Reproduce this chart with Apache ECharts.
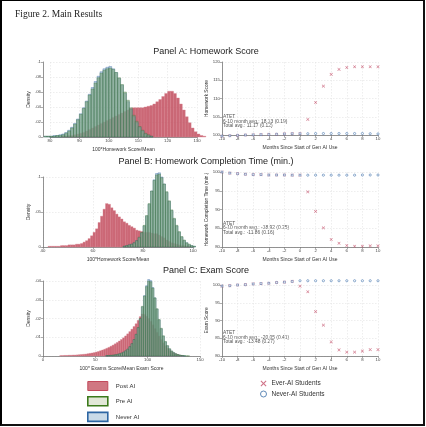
<!DOCTYPE html>
<html><head><meta charset="utf-8">
<script src="https://cdn.jsdelivr.net/npm/echarts@6/dist/echarts.min.js"></script>
<style>
html,body{margin:0;padding:0;background:#fff;}
#c{position:absolute;left:0;top:0;width:426px;height:427px;}
#frame{position:absolute;left:0;top:0;width:425px;height:426px;box-sizing:border-box;border-left:2px solid #000;border-top:1.5px solid #000;border-right:2px solid #111;border-bottom:2px solid #111;pointer-events:none;}
</style></head>
<body><div id="c"></div><div id="frame"></div>
<script>
// ---------- DATA ----------
const months = [-10,-9,-8,-7,-6,-5,-4,-3,-2,-1,0,1,2,3,4,5,6,7,8,9,10];

// Panel A scatter: Homework Score
const scoreNever = [99.7,99.8,99.9,100.0,100.05,100.1,100.15,100.2,100.3,100.35,100.35,100.35,100.4,100.4,100.4,100.4,100.4,100.4,100.4,100.35,100.3];
const scoreEver  = [99.7,99.8,99.9,100.0,100.05,100.1,100.15,100.2,100.3,100.35,100.4,104.3,108.9,113.4,116.6,118.0,118.5,118.7,118.7,118.7,118.7];
// Panel B scatter: Homework Completion Time
const timeNever = [100.0,99.7,99.55,99.4,99.3,99.3,99.2,99.2,99.2,99.15,99.15,99.15,99.15,99.15,99.15,99.15,99.15,99.15,99.2,99.2,99.2];
const timeEver  = [100.0,99.7,99.55,99.4,99.3,99.3,99.2,99.2,99.2,99.15,99.15,94.7,89.5,85.1,82.0,81.0,80.4,80.2,80.2,80.3,80.3];
// Panel C scatter: Exam Score
const examNever = [99.7,99.8,100.0,100.1,100.3,100.4,100.5,100.7,100.8,101.0,101.2,101.2,101.2,101.2,101.2,101.2,101.2,101.2,101.2,101.2,101.2];
const examEver  = [99.7,99.8,100.0,100.1,100.3,100.4,100.5,100.7,100.8,101.0,99.7,98.1,92.5,88.7,84.0,81.7,81.1,81.1,81.4,81.8,81.8];

// Histogram bin widths
const binA = 1, binB = 1, binC = 2;

// Panel A histograms [bin start, density]
const histA_post = [[84,.001],[85,.001],[86,.002],[87,.002],[88,.003],[89,.004],[90,.005],[91,.006],[92,.008],[93,.010],[94,.012],[95,.014],[96,.016],[97,.018],[98,.020],[99,.022],[100,.024],[101,.026],[102,.028],[103,.030],[104,.032],[105,.034],[106,.036],[107,.038],[108,.039],[109,.039],[110,.039],[111,.039],[112,.040],[113,.041],[114,.042],[115,.044],[116,.047],[117,.050],[118,.054],[119,.058],[120,.061],[121,.061],[122,.058],[123,.052],[124,.044],[125,.036],[126,.027],[127,.019],[128,.012],[129,.007],[130,.004],[131,.002],[132,.001]];
const histA_pre = [[78,.001],[79,.001],[80,.001],[81,.001],[82,.002],[83,.002],[84,.003],[85,.005],[86,.008],[87,.012],[88,.017],[89,.023],[90,.030],[91,.038],[92,.047],[93,.056],[94,.064],[95,.072],[96,.079],[97,.085],[98,.089],[99,.091],[100,.092],[101,.090],[102,.086],[103,.079],[104,.070],[105,.060],[106,.049],[107,.039],[108,.029],[109,.021],[110,.014],[111,.009],[112,.005],[113,.003],[114,.001]];
const histA_never = [[78,.001],[79,.001],[80,.001],[81,.002],[82,.002],[83,.003],[84,.004],[85,.006],[86,.009],[87,.013],[88,.018],[89,.024],[90,.031],[91,.039],[92,.048],[93,.057],[94,.066],[95,.074],[96,.081],[97,.087],[98,.091],[99,.093],[100,.094],[101,.091],[102,.086],[103,.078],[104,.069],[105,.058],[106,.047],[107,.037],[108,.027],[109,.019],[110,.013],[111,.008],[112,.004],[113,.002],[114,.001]];

// Panel B histograms
const histB_post = [[42,.001],[43,.001],[44,.001],[45,.001],[46,.001],[47,.002],[48,.002],[49,.002],[50,.003],[51,.003],[52,.003],[53,.004],[54,.004],[55,.005],[56,.007],[57,.009],[58,.012],[59,.016],[60,.021],[61,.026],[62,.035],[63,.044],[64,.054],[65,.062],[66,.061],[67,.056],[68,.052],[69,.047],[70,.043],[71,.040],[72,.036],[73,.034],[74,.031],[75,.029],[76,.027],[77,.024],[78,.023],[79,.022],[80,.021],[81,.021],[82,.021],[83,.020],[84,.019],[85,.019],[86,.017],[87,.015],[88,.013],[89,.010],[90,.008],[91,.006],[92,.005],[93,.004],[94,.003],[95,.002],[96,.002],[97,.001],[98,.001]];
const histB_pre = [[72,.001],[73,.002],[74,.003],[75,.004],[76,.006],[77,.009],[78,.014],[79,.021],[80,.031],[81,.045],[82,.062],[83,.080],[84,.095],[85,.103],[86,.104],[87,.099],[88,.090],[89,.079],[90,.066],[91,.053],[92,.041],[93,.031],[94,.022],[95,.015],[96,.010],[97,.006],[98,.004],[99,.002],[100,.001]];
const histB_never = [[72,.001],[73,.002],[74,.003],[75,.004],[76,.006],[77,.009],[78,.013],[79,.020],[80,.030],[81,.044],[82,.061],[83,.080],[84,.096],[85,.105],[86,.106],[87,.100],[88,.090],[89,.078],[90,.065],[91,.052],[92,.040],[93,.030],[94,.021],[95,.014],[96,.009],[97,.006],[98,.003],[99,.002],[100,.001]];

// Panel C histograms
const histC_post = [[16,.0002],[18,.0002],[20,.0003],[22,.0003],[24,.0004],[26,.0004],[28,.0005],[30,.0005],[32,.0006],[34,.0007],[36,.0008],[38,.0009],[40,.0010],[42,.0012],[44,.0014],[46,.0016],[48,.0018],[50,.0021],[52,.0024],[54,.0028],[56,.0032],[58,.0036],[60,.0041],[62,.0046],[64,.0052],[66,.0058],[68,.0065],[70,.0072],[72,.0080],[74,.0088],[76,.0097],[78,.0107],[80,.0118],[82,.0130],[84,.0143],[86,.0157],[88,.0172],[90,.0190],[92,.0210],[94,.0224],[96,.0222],[98,.0212],[100,.0200],[102,.0184],[104,.0166],[106,.0146],[108,.0126],[110,.0106],[112,.0087],[114,.0070],[116,.0055],[118,.0042],[120,.0031],[122,.0022],[124,.0016],[126,.0011],[128,.0007],[130,.0004],[132,.0002]];
const histC_pre = [[60,.0002],[62,.0003],[64,.0004],[66,.0005],[68,.0007],[70,.0009],[72,.0012],[74,.0016],[76,.0021],[78,.0028],[80,.0037],[82,.0050],[84,.0066],[86,.0088],[88,.0116],[90,.0152],[92,.0200],[94,.0265],[96,.0320],[98,.0370],[100,.0400],[102,.0396],[104,.0362],[106,.0310],[108,.0252],[110,.0195],[112,.0148],[114,.0108],[116,.0078],[118,.0056],[120,.0039],[122,.0027],[124,.0018],[126,.0012],[128,.0008],[130,.0005],[132,.0003],[134,.0002],[136,.0001],[138,.0001]];
const histC_never = [[60,.0002],[62,.0002],[64,.0003],[66,.0004],[68,.0006],[70,.0008],[72,.0011],[74,.0015],[76,.0020],[78,.0027],[80,.0036],[82,.0049],[84,.0065],[86,.0087],[88,.0115],[90,.0150],[92,.0198],[94,.0262],[96,.0322],[98,.0375],[100,.0408],[102,.0402],[104,.0365],[106,.0310],[108,.0250],[110,.0192],[112,.0145],[114,.0105],[116,.0075],[118,.0053],[120,.0037],[122,.0025],[124,.0017],[126,.0011],[128,.0007],[130,.0004],[132,.0002],[134,.0001]];

// Labels
const figTitle = 'Figure 2. Main Results';
const panelTitles = ['Panel A: Homework Score','Panel B: Homework Completion Time (min.)','Panel C: Exam Score'];
const histXNames = ['100*Homework Score/Mean','100*Homework Score/Mean','100* Exams Score/Mean Exam Score'];
const scatYNames = ['Homework Score','Homework Completion Time (min.)','Exam Score'];
const scatXName = 'Months Since Start of Gen AI Use';
const atetTexts = [
  'ATET\n6-10 month avg.: 18.13 (0.19)\nTotal avg.: 11.17 (0.12)',
  'ATET\n6-10 month avg.: -18.92 (0.25)\nTotal avg.: -11.86 (0.16)',
  'ATET\n6-10 month avg.: -20.05 (0.41)\nTotal avg.: -13.48 (0.27)'
];
const histNames = ['Post AI','Pre AI','Never AI'];
const scatNames = ['Ever-AI Students','Never-AI Students'];

// ---------- STYLE ----------
const FONT = 'Liberation Sans, Arial, sans-serif';
const RED = '#c4506a';
const BLUE = '#3b6ea8';
const postFill = 'rgba(188,62,80,0.78)', postStroke = 'rgba(215,130,142,0.85)';
const preFill = 'rgba(120,160,120,0.6)', preStroke = 'rgba(55,110,50,0.7)';
const neverFill = 'rgba(130,170,205,0.55)', neverStroke = 'rgba(50,100,160,0.75)';

const axLine = {onZero:false,lineStyle:{color:'#777',width:0.8}};
const axTick = {length:2,lineStyle:{color:'#777',width:0.6}};
const split = {show:true,lineStyle:{color:'#e2e2e2',width:0.6,type:[1.5,1.5]}};
const lab = {fontSize:4.3,color:'#444',margin:2,fontFamily:FONT};
const nameStyle = {fontSize:5,color:'#333',fontFamily:FONT};
const densFmt = v => v === 0 ? '0' : String(+v.toFixed(3)).replace(/^0\./,'.');

// grids: 0 histA, 1 scatA, 2 histB, 3 scatB, 4 histC, 5 scatC
const grids = [
  {left:50, top:62, width:147, height:75},
  {left:222, top:62, width:156, height:73},
  {left:43, top:177, width:150, height:70},
  {left:222, top:172, width:156, height:75},
  {left:43, top:281, width:157, height:75},
  {left:222, top:285, width:156, height:71}
];
const histX = [[80,130,10],[40,100,20],[0,150,50]];
const histY = [[0,0.1,0.02],[0,0.1,0.05],[0,0.04,0.01]];
const scatY = [[100,120,5],[80,100,5],[80,100,5]];

const xAxes = [], yAxes = [];
for (let p = 0; p < 3; p++) {
  xAxes.push({type:'value',gridIndex:2*p,min:histX[p][0],max:histX[p][1],interval:histX[p][2],
    axisLine:axLine,axisTick:axTick,splitLine:split,axisLabel:lab,
    name:histXNames[p],nameLocation:'middle',nameGap:10,nameTextStyle:nameStyle});
  yAxes.push({type:'value',gridIndex:2*p,min:histY[p][0],max:histY[p][1],interval:histY[p][2],
    offset: p===0 ? 7 : 0,
    axisLine:Object.assign({show:true},axLine),axisTick:Object.assign({show:true},axTick),
    splitLine:split,axisLabel:Object.assign({},lab,{formatter:densFmt}),
    name:'Density',nameLocation:'middle',nameGap:12,nameTextStyle:nameStyle});
  xAxes.push({type:'value',gridIndex:2*p+1,min:-10,max:10,interval:2,
    axisLine:axLine,axisTick:axTick,splitLine:split,axisLabel:lab,
    name:scatXName,nameLocation:'middle',nameGap:10,nameTextStyle:nameStyle});
  yAxes.push({type:'value',gridIndex:2*p+1,min:scatY[p][0],max:scatY[p][1],interval:scatY[p][2],
    axisLine:Object.assign({show:true},axLine),axisTick:Object.assign({show:true},axTick),
    splitLine:split,axisLabel:lab,
    name:scatYNames[p],nameLocation:'middle',nameGap:12,nameTextStyle:Object.assign({},nameStyle,{fontSize:4.8})});
}

function histSeries(name, data, bw, idx, fill, stroke) {
  return {
    type:'custom', name, xAxisIndex:idx, yAxisIndex:idx, data, clip:false,
    encode:{x:0,y:1}, itemStyle:{color:fill},
    renderItem:(params, api) => {
      const x = api.value(0), y = api.value(1);
      const p0 = api.coord([x, 0]), p1 = api.coord([x + bw, y]);
      return {type:'rect',shape:{x:p0[0],y:p1[1],width:p1[0]-p0[0],height:p0[1]-p1[1]},
        style:{fill, stroke, lineWidth:0.45}};
    }
  };
}
const xMark = 'path://M0,1.3L1.3,0L5,3.7L8.7,0L10,1.3L6.3,5L10,8.7L8.7,10L5,6.3L1.3,10L0,8.7L3.7,5Z';
function scatSeries(name, vals, idx) {
  const ever = name === scatNames[0];
  return {
    type:'scatter', name, xAxisIndex:idx, yAxisIndex:idx, clip:false,
    data: months.map((m,i) => [m, vals[i]]),
    symbol: ever ? xMark : 'circle',
    symbolSize: ever ? 3.2 : 2.2,
    itemStyle: ever ? {color:RED} : {color:'#ffffff', borderColor:BLUE, borderWidth:0.7},
    z: ever ? 3 : 4
  };
}

const hists = [[histA_post,histA_pre,histA_never,binA],[histB_post,histB_pre,histB_never,binB],[histC_post,histC_pre,histC_never,binC]];
const scats = [[scoreEver,scoreNever],[timeEver,timeNever],[examEver,examNever]];
const series = [];
for (let p = 0; p < 3; p++) {
  const h = hists[p];
  series.push(histSeries(histNames[0], h[0], h[3], 2*p, postFill, postStroke));
  series.push(histSeries(histNames[2], h[2], h[3], 2*p, neverFill, neverStroke));
  series.push(histSeries(histNames[1], h[1], h[3], 2*p, preFill, preStroke));
  series.push(scatSeries(scatNames[0], scats[p][0], 2*p+1));
  series.push(scatSeries(scatNames[1], scats[p][1], 2*p+1));
}

const graphics = [
  {type:'text',x:15,y:9,style:{text:figTitle,font:'9.5px Liberation Serif, Times New Roman, serif',fill:'#222'}}
];
const titleY = [51.5,161.5,270.5];
panelTitles.forEach((t,i) => graphics.push({type:'text',x:206,y:titleY[i],
  style:{text:t,font:'9px '+FONT,fill:'#222',textAlign:'center',textVerticalAlign:'middle'}}));
const atetY = [114.5,221,330.5];
atetTexts.forEach((t,i) => graphics.push({type:'text',x:223,y:atetY[i],
  style:{text:t,font:'4.9px '+FONT,fill:'#555',lineHeight:4.6}}));

const option = {
  animation:false,
  backgroundColor:'#fff',
  grid:grids,
  xAxis:xAxes, yAxis:yAxes,
  series,
  graphic:graphics,
  legend:[
    {orient:'vertical',left:87,top:381,padding:0,itemWidth:20,itemHeight:9,itemGap:5,icon:'rect',
     textStyle:{fontSize:6,color:'#333',fontFamily:FONT,padding:[0,0,0,3]},selectedMode:false,
     data:[
       {name:histNames[0],itemStyle:{color:'rgba(200,95,108,0.85)',borderColor:'#c24a5c',borderWidth:1}},
       {name:histNames[1],itemStyle:{color:'#e2e8d8',borderColor:'#3c7a1c',borderWidth:1.6}},
       {name:histNames[2],itemStyle:{color:'#c9dae8',borderColor:'#2e66a3',borderWidth:1.6}}
     ]},
    {orient:'vertical',left:260,top:380,padding:0,itemWidth:6,itemHeight:6,itemGap:3.5,selectedMode:false,
     textStyle:{fontSize:6.5,color:'#333',fontFamily:FONT},
     data:[
       {name:scatNames[0],icon:xMark,itemStyle:{color:RED}},
       {name:scatNames[1],icon:'circle',itemStyle:{color:'#ffffff',borderColor:BLUE,borderWidth:1}}
     ]}
  ]
};
const chart = echarts.init(document.getElementById('c'));
chart.setOption(option);
</script></body></html>
